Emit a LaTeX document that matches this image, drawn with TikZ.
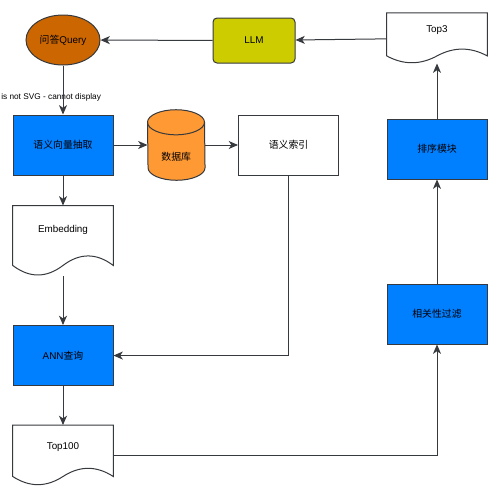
\documentclass[tikz,border=0pt]{standalone}
\usepackage{fontspec}
\setmainfont{Liberation Sans}
\newfontfamily\cjk{Noto Sans CJK SC}
\usepackage{tikz}
\usetikzlibrary{positioning,arrows.meta,shapes.geometric,calc}
\usepackage{xcolor}
\definecolor{edge}{HTML}{36393D}
\definecolor{boxblue}{HTML}{007FFF}
\definecolor{qbrown}{HTML}{CC6600}
\definecolor{llmolive}{HTML}{CCCC00}
\definecolor{dborange}{HTML}{FF9933}
% paper-like document outline with a wavy bottom
\newcommand{\drawdoc}[1]{%
  \draw[draw=edge, line width=0.75pt, fill=white] let \p1=(#1.north west), \p2=(#1.south east) in
    (\p1) -- (\x2,\y1) -- (\x2,{\y1+0.85*(\y2-\y1)})
    .. controls ({\x1+0.8333*(\x2-\x1)},{\y1+0.67*(\y2-\y1)}) and ({\x1+0.6667*(\x2-\x1)},{\y1+0.67*(\y2-\y1)})
    .. ({\x1+0.5*(\x2-\x1)},{\y1+0.85*(\y2-\y1)})
    .. controls ({\x1+0.3333*(\x2-\x1)},{\y1+1.03*(\y2-\y1)}) and ({\x1+0.1667*(\x2-\x1)},{\y1+1.03*(\y2-\y1)})
    .. (\x1,{\y1+0.85*(\y2-\y1)}) -- cycle;}
% database drum
\newcommand{\drawdb}[1]{%
  \draw[draw=edge, line width=0.75pt, fill=dborange]
    ([yshift=-9.4pt]#1.north west) arc[start angle=180, end angle=0, x radius=21.375pt, y radius=9.4pt]
    -- ([yshift=9.4pt]#1.south east) arc[start angle=0, end angle=-180, x radius=21.375pt, y radius=9.4pt] -- cycle;
  \draw[draw=edge, line width=0.75pt]
    ([yshift=-9.4pt]#1.north west) arc[start angle=180, end angle=360, x radius=21.375pt, y radius=9.4pt];}

\tikzset{
  flowline/.style={draw=edge, line width=0.75pt},
  flowarrow/.style={flowline, -{Stealth[length=7pt, width=6pt, inset=2pt]}},
  procbox/.style={draw=edge, line width=0.75pt, fill=boxblue, minimum width=75pt, minimum height=45pt, inner sep=2pt},
  plainbox/.style={procbox, fill=white},
  docbox/.style={minimum width=75pt, minimum height=#1, inner sep=0pt},
  dbbox/.style={minimum width=42.75pt, minimum height=52.5pt, inner sep=0pt},
}

\begin{document}
\begin{tikzpicture}[x=0.75pt, y=-0.75pt, font=\fontsize{7.4pt}{9pt}\selectfont]
  \useasboundingbox (0,0) rectangle (500,500);

  % left column
  \node[procbox] (vec) at (63,145) {\cjk 语义向量抽取};
  \node[draw=edge, line width=0.75pt, fill=qbrown, ellipse, minimum width=55.5pt, minimum height=37.5pt, inner sep=0pt,
        above=36.75pt of vec] (query) {{\cjk 问答}Query};
  \node[docbox=52.5pt, below=22.5pt of vec] (emb) {};
  \node[procbox, below=36.75pt of emb] (ann) {ANN{\cjk 查询}};
  \node[docbox=45pt, below=29.25pt of ann] (top100) {};

  % middle row
  \node[dbbox, right=25.5pt of vec] (db) {};
  \node[plainbox, right=24.75pt of db] (idx) {\cjk 语义索引};
  \node[draw=edge, line width=0.75pt, fill=llmolive, rounded corners=3pt, minimum width=61.5pt, minimum height=33.75pt] (llm) at (254,40.5) {LLM};

  % right column
  \node[procbox] (filt) at (437,314) {\cjk 相关性过滤};
  \node[procbox, above=78pt of filt] (rank) {\cjk 排序模块};
  \node[docbox=37.5pt, above=41.25pt of rank] (top3) {};

  \drawdoc{emb} \drawdoc{top100} \drawdoc{top3}
  \drawdb{db}
  \node at ([yshift=8.25pt]emb.center) {Embedding};
  \node at ([yshift=6pt]top100.center) {Top100};
  \node at ([yshift=6pt]top3.center) {Top3};
  \node at ([yshift=-9pt]db.center) {\cjk 数据库};

  \node[anchor=west, font=\fontsize{6.2pt}{7pt}\selectfont, inner sep=0pt] (note) at (1,97) {is not SVG - cannot display};

  \draw[flowarrow] (top3) -- (llm);
  \draw[flowarrow] (llm) -- (query);
  \draw[flowarrow] (query) -- (vec);
  \draw[flowarrow] (vec) -- (db);
  \draw[flowarrow] (db) -- (idx);
  \draw[flowarrow] (vec) -- (emb);
  \draw[flowarrow] (emb) -- (ann);
  \draw[flowarrow] (ann) -- (top100);
  \draw[flowarrow] (idx.south) |- (ann.east);
  \draw[flowarrow] (top100.east) -| (filt.south);
  \draw[flowarrow] (filt) -- (rank);
  \draw[flowarrow] (rank) -- (top3);
\end{tikzpicture}
\end{document}
